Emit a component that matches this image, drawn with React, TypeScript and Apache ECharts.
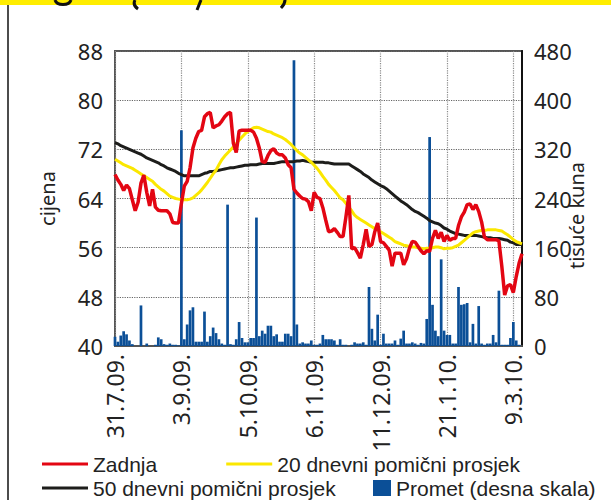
import React, { useEffect, useRef } from 'react';
import * as echarts from 'echarts';

const tickLabels = ['31.7.09.', '3.9.09.', '5.10.09.', '6.11.09.', '11.12.09.', '21.1.10.', '9.3.10.'];
const tickIndex = [0, 23, 46, 69, 92, 115, 138];
const pointCount = 142;

const seriesNames = ['Zadnja', '20 dnevni pomični prosjek', '50 dnevni pomični prosjek', 'Promet (desna skala)'];

const zadnja = [
  67.9, 67.0, 66.3, 65.3, 66.2, 65.6, 63.8, 62.0, 63.4, 66.5,
  67.8, 65.0, 62.8, 65.5, 62.6, 62.1, 62.0, 62.0, 62.0, 61.5,
  60.1, 60.0, 60.0, 63.2, 66.0, 66.8, 69.0, 72.2, 73.8, 74.9,
  75.1, 77.3, 77.8, 78.0, 75.5, 75.8, 76.0, 76.6, 77.3, 77.8,
  78.0, 73.0, 71.5, 75.0, 75.1, 75.1, 75.1, 75.1, 74.8, 73.8,
  72.2, 70.0, 69.9, 71.0, 71.8, 72.1, 71.4, 71.1, 71.1, 70.6,
  69.5, 69.0, 65.5, 64.9, 64.4, 64.0, 63.9, 63.5, 62.0, 65.0,
  64.2, 64.0, 62.5, 60.5, 58.6, 58.7, 59.1, 58.5, 57.8, 57.8,
  61.0, 64.5, 55.8, 56.0, 55.2, 54.3, 56.5, 59.0, 56.2, 56.5,
  58.6, 60.0, 57.0, 56.8, 56.2, 55.6, 53.0, 55.1, 55.1, 55.1,
  53.2, 54.2, 55.9, 57.0, 56.9, 56.2, 55.5, 55.0, 55.5, 55.4,
  57.5, 58.8, 57.5, 58.5, 57.0, 58.0, 57.2, 57.5, 57.5, 59.6,
  61.0, 61.8, 63.0, 63.1, 62.2, 63.0, 61.9, 60.2, 57.7, 57.3,
  57.3, 57.3, 57.3, 57.1, 53.0, 48.3, 49.8, 50.0, 48.7, 51.3,
  53.5, 55.0,
];

const prosjek20 = [
  70.4, 70.1, 69.8, 69.5, 69.3, 69.1, 68.9, 68.6, 68.3, 68.0,
  67.7, 67.4, 67.1, 66.8, 66.3, 65.9, 65.5, 65.2, 64.8, 64.4,
  64.2, 64.0, 63.9, 63.8, 63.8, 63.8, 63.9, 64.1, 64.5, 64.9,
  65.4, 66.0, 66.6, 67.3, 68.0, 68.6, 69.5, 70.3, 70.9, 71.4,
  71.9, 72.4, 72.9, 73.5, 74.0, 74.5, 74.9, 75.2, 75.5, 75.6,
  75.5, 75.3, 75.1, 74.9, 74.8, 74.5, 74.3, 74.1, 73.9, 73.6,
  73.2, 72.8, 72.3, 71.8, 71.4, 71.1, 70.7, 70.3, 69.9, 69.4,
  68.9, 68.3, 67.6, 67.0, 66.3, 65.8, 65.3, 64.7, 64.1, 63.8,
  63.2, 62.6, 62.0, 61.3, 60.9, 60.6, 60.3, 60.0, 59.7, 59.4,
  59.1, 58.9, 58.6, 58.3, 58.0, 57.7, 57.4, 57.0, 56.8, 56.6,
  56.4, 56.3, 56.2, 56.1, 56.1, 56.0, 55.9, 55.8, 55.9, 55.9,
  56.0, 56.1, 56.1, 56.0, 55.8, 55.9, 55.9, 56.0, 56.2, 56.4,
  56.8, 57.2, 57.6, 58.0, 58.4, 58.6, 58.7, 58.8, 58.8, 58.9,
  58.9, 58.9, 58.9, 58.8, 58.7, 58.4, 58.1, 57.7, 57.3, 57.0,
  56.8, 56.6,
];

const prosjek50 = [
  73.1, 72.9, 72.6, 72.4, 72.2, 72.0, 71.8, 71.6, 71.4, 71.2,
  70.9, 70.6, 70.4, 70.2, 70.0, 69.8, 69.5, 69.3, 69.0, 68.8,
  68.6, 68.4, 68.1, 67.9, 67.7, 67.7, 67.7, 67.7, 67.7, 67.7,
  67.9, 68.1, 68.2, 68.4, 68.4, 68.5, 68.6, 68.7, 68.8, 68.9,
  69.0, 69.0, 69.1, 69.2, 69.3, 69.4, 69.4, 69.5, 69.5, 69.5,
  69.6, 69.7, 69.7, 69.7, 69.7, 69.7, 69.8, 69.9, 70.0, 70.0,
  70.0, 70.0, 70.0, 70.1, 70.1, 70.2, 70.1, 70.0, 69.9, 69.9,
  69.9, 69.9, 69.9, 69.8, 69.8, 69.7, 69.6, 69.6, 69.6, 69.6,
  69.6, 69.6, 69.3, 69.0, 68.7, 68.4, 68.0, 67.7, 67.4, 67.0,
  66.7, 66.4, 66.1, 65.9, 65.6, 65.2, 64.8, 64.4, 64.0, 63.6,
  63.3, 63.0, 62.6, 62.2, 61.9, 61.7, 61.4, 61.1, 60.8, 60.4,
  60.2, 60.0, 59.9, 59.6, 59.2, 59.0, 58.7, 58.5, 58.3, 58.2,
  58.1, 58.0, 58.0, 58.0, 58.0, 58.0, 57.9, 57.8, 57.7, 57.6,
  57.6, 57.5, 57.5, 57.5, 57.4, 57.3, 57.2, 56.9, 56.8, 56.5,
  56.5, 56.5,
];

const promet = [
  15, 7, 17, 24, 19, 9, 3, 0, 0, 66,
  0, 4, 0, 0, 2, 14, 11, 3, 2, 4,
  2, 2, 1, 351, 11, 35, 58, 63, 7, 7,
  7, 56, 7, 16, 30, 21, 11, 4, 2, 230,
  3, 2, 11, 39, 13, 6, 6, 13, 13, 209,
  16, 25, 20, 33, 33, 16, 19, 7, 7, 20,
  20, 16, 465, 35, 4, 6, 4, 4, 9, 2,
  2, 4, 18, 11, 11, 11, 9, 2, 11, 2,
  2, 0, 2, 6, 4, 4, 6, 2, 96, 28,
  9, 51, 2, 20, 4, 4, 4, 9, 2, 12,
  25, 4, 4, 6, 4, 2, 5, 4, 44, 340,
  67, 25, 16, 141, 25, 18, 18, 4, 4, 96,
  67, 68, 70, 6, 36, 4, 65, 4, 2, 4,
  4, 18, 6, 90, 2, 2, 2, 13, 39, 9,
  2, 0,
];

const FONT = 'Noto Sans';
const LEGEND_FONT = 'Liberation Sans';

export default function App() {
  const ref = useRef<HTMLDivElement>(null);
  useEffect(() => {
    const chart = echarts.init(ref.current as HTMLDivElement, undefined, { renderer: 'svg' });
    const categories = Array.from({ length: pointCount }, (_, i) => {
      const k = tickIndex.indexOf(i);
      return k >= 0 ? tickLabels[k] : '';
    });
    const showTick = (i: number) => tickIndex.indexOf(i) >= 0;
    const textStyle = { fontFamily: FONT, fontSize: 20, color: '#222' };
    const legendText = { fontFamily: LEGEND_FONT, fontSize: 21, color: '#222', lineHeight: 23 };
    chart.setOption({
      animation: false,
      textStyle: { fontFamily: FONT },
      grid: { left: 115, top: 51, width: 407, height: 295, show: true, borderColor: '#555', borderWidth: 2, backgroundColor: 'transparent' },
      legend: [
        { data: [seriesNames[0], seriesNames[1]], left: 42, top: 452.5, padding: 0, icon: 'rect', itemWidth: 46, itemHeight: 3, itemGap: 69, textStyle: legendText, selectedMode: false },
        { data: [seriesNames[2]], left: 42, top: 476.5, padding: 0, icon: 'rect', itemWidth: 46, itemHeight: 3, textStyle: legendText, selectedMode: false },
        { data: [seriesNames[3]], left: 373, top: 476.5, padding: 0, icon: 'rect', itemWidth: 18, itemHeight: 16, textStyle: legendText, selectedMode: false },
      ],
      xAxis: {
        type: 'category',
        data: categories,
        boundaryGap: false,
        axisLine: { show: true, lineStyle: { color: '#555', width: 2 } },
        axisTick: { show: false },
        axisLabel: { ...textStyle, fontSize: 23, interval: showTick, rotate: 90, margin: 8 },
        splitLine: { show: true, interval: showTick, lineStyle: { type: 'dotted', color: '#8a8a8a', width: 1.2 } },
      },
      yAxis: [
        {
          type: 'value', min: 40, max: 88, interval: 8, position: 'left',
          name: 'cijena', nameLocation: 'middle', nameGap: 58, nameRotate: 90, nameMoveOverlap: false,
          nameTextStyle: { ...textStyle },
          axisLine: { show: false }, axisTick: { show: false },
          axisLabel: { ...textStyle, fontSize: 22, margin: 12 },
          splitLine: { show: true, lineStyle: { type: 'dotted', color: '#666', width: 1.2 } },
        },
        {
          type: 'value', min: 0, max: 480, interval: 80, position: 'right',
          name: 'tisuće kuna', nameLocation: 'middle', nameGap: 44, nameRotate: 90, nameMoveOverlap: false,
          nameTextStyle: { ...textStyle, padding: [0, 34, 0, 0] },
          axisLine: { show: true, lineStyle: { color: '#111', width: 2 } }, axisTick: { show: false },
          axisLabel: { ...textStyle, fontSize: 22, margin: 12 },
          splitLine: { show: false },
        },
      ],
      series: [
        { name: seriesNames[3], type: 'bar', yAxisIndex: 1, data: promet, barWidth: 2.7, itemStyle: { color: '#0b4f97' }, z: 1 },
        { name: seriesNames[2], type: 'line', data: prosjek50, symbol: 'none', lineStyle: { color: '#1d1d1b', width: 3 }, itemStyle: { color: '#1d1d1b' }, z: 3 },
        { name: seriesNames[1], type: 'line', data: prosjek20, symbol: 'none', lineStyle: { color: '#fbe700', width: 3 }, itemStyle: { color: '#fbe700' }, z: 4 },
        { name: seriesNames[0], type: 'line', data: zadnja, symbol: 'none', lineStyle: { color: '#e30613', width: 3.5 }, itemStyle: { color: '#e30613' }, z: 5 },
      ],
      graphic: [
        { type: 'rect', shape: { x: 0, y: 0, width: 611, height: 5 }, style: { fill: '#ffed00' }, silent: true },
        { type: 'line', shape: { x1: 8, y1: 5, x2: 8, y2: 500 }, style: { stroke: '#111', lineWidth: 1.5 }, silent: true },
        { type: 'bezierCurve', shape: { x1: 55, y1: 0, x2: 71, y2: 0, cpx1: 57, cpy1: 6, cpx2: 69, cpy2: 6 }, style: { stroke: '#111', lineWidth: 3, fill: 'none' }, silent: true },
        { type: 'bezierCurve', shape: { x1: 135, y1: 0, x2: 138, y2: 9, cpx1: 133, cpy1: 4, cpx2: 135, cpy2: 7 }, style: { stroke: '#111', lineWidth: 3, fill: 'none' }, silent: true },
        { type: 'line', shape: { x1: 201, y1: 0, x2: 197, y2: 10 }, style: { stroke: '#111', lineWidth: 3 }, silent: true },
        { type: 'bezierCurve', shape: { x1: 285, y1: 0, x2: 281, y2: 8, cpx1: 285, cpy1: 4, cpx2: 283, cpy2: 6 }, style: { stroke: '#111', lineWidth: 3, fill: 'none' }, silent: true },
      ],
    });
    return () => chart.dispose();
  }, []);
  return <div ref={ref} style={{ position: 'absolute', left: 0, top: 0, width: 611, height: 500 }} />;
}
